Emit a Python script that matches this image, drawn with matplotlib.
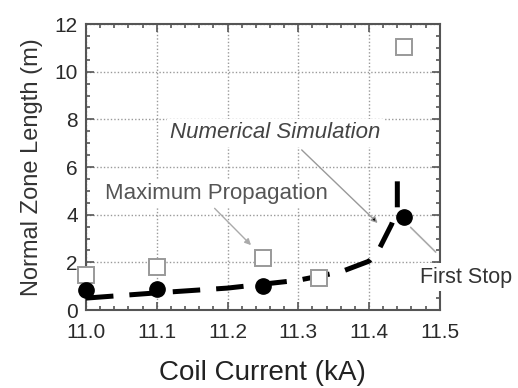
import matplotlib
matplotlib.use("Agg")
import matplotlib.pyplot as plt
from matplotlib.ticker import MultipleLocator

plt.rcParams["font.family"] = ["Liberation Sans", "DejaVu Sans"]

# maximum propagation (open squares)
max_x = [11.0, 11.1, 11.25, 11.33, 11.45]
max_y = [1.47, 1.8, 2.2, 1.34, 11.05]

# first stop (filled circles)
stop_x = [11.0, 11.1, 11.25, 11.45]
stop_y = [0.84, 0.9, 1.0, 3.9]

# numerical simulation (thick dashed curve)
sim_x = [11.0, 11.1, 11.2, 11.3, 11.36, 11.4, 11.415, 11.432, 11.44, 11.44]
sim_y = [0.5, 0.72, 0.92, 1.25, 1.6, 2.05, 2.6, 3.6, 4.3, 5.4]

GRID_C = "#9a9a9a"
SPINE_C = "#555555"

fig = plt.figure(figsize=(5.18, 3.88), dpi=100)
ax = fig.add_axes([0.166, 0.201, 0.683, 0.737])

ax.plot(sim_x, sim_y, color="black", lw=3.6, dashes=(5.5, 3.2),
        zorder=4)
ax.plot(max_x, max_y, "s", ms=12, mfc="white", mec="#999999", mew=1.4,
        clip_on=False, zorder=5)
ax.plot(stop_x, stop_y, "o", ms=11, color="black", clip_on=False, zorder=6)

ax.set_xlim(11.0, 11.5)
ax.set_ylim(0, 12)
ax.xaxis.set_major_locator(MultipleLocator(0.1))
ax.xaxis.set_minor_locator(MultipleLocator(0.02))
ax.yaxis.set_major_locator(MultipleLocator(2))
ax.yaxis.set_minor_locator(MultipleLocator(0.5))
ax.set_xticks([11.0, 11.1, 11.2, 11.3, 11.4, 11.5])
ax.set_xticklabels(["11.0", "11.1", "11.2", "11.3", "11.4", "11.5"])

ax.tick_params(which="both", direction="in", top=True, right=True,
               color=SPINE_C, width=1.2)
ax.tick_params(which="major", length=6, labelsize=15, labelcolor="#2a2a2a")
ax.tick_params(which="minor", length=3)
ax.tick_params(axis="x", pad=9)
ax.tick_params(axis="y", pad=6)
for s in ax.spines.values():
    s.set_color(SPINE_C)
    s.set_linewidth(1.5)

ax.grid(True, which="major", color=GRID_C, ls=(0, (1, 1.5)), lw=1.0)
ax.set_axisbelow(True)

ax.set_xlabel("Coil Current (kA)", fontsize=20, color="#222222", labelpad=13)
ax.set_ylabel("Normal Zone Length (m)", fontsize=17, color="#333333", labelpad=8)

box = dict(boxstyle="square,pad=0.15", fc="white", ec="none")
ax.text(11.268, 7.43, "Numerical Simulation", fontsize=16, style="italic",
        color="#444444", ha="center", va="center", bbox=box, zorder=3)
ax.text(11.184, 4.91, "Maximum Propagation", fontsize=16,
        color="#555555", ha="center", va="center", bbox=box, zorder=3)
ax.text(11.472, 1.38, "First Stop", fontsize=15.5, color="#333333",
        ha="left", va="center", bbox=box, zorder=3, clip_on=False)

ax.annotate("", xy=(11.236, 2.64), xytext=(11.179, 4.35),
            arrowprops=dict(arrowstyle="-|>", color="#aaaaaa", lw=1.0,
                            mutation_scale=9), zorder=3)
ax.annotate("", xy=(11.415, 3.57), xytext=(11.302, 6.8),
            arrowprops=dict(arrowstyle="-|>", color="#999999", lw=1.0,
                            mutation_scale=9, fc="black"), zorder=3)
ax.annotate("", xy=(11.456, 3.55), xytext=(11.497, 2.35),
            arrowprops=dict(arrowstyle="-", color="#aaaaaa", lw=1.2), zorder=3)

fig.savefig("out.png", dpi=100)
